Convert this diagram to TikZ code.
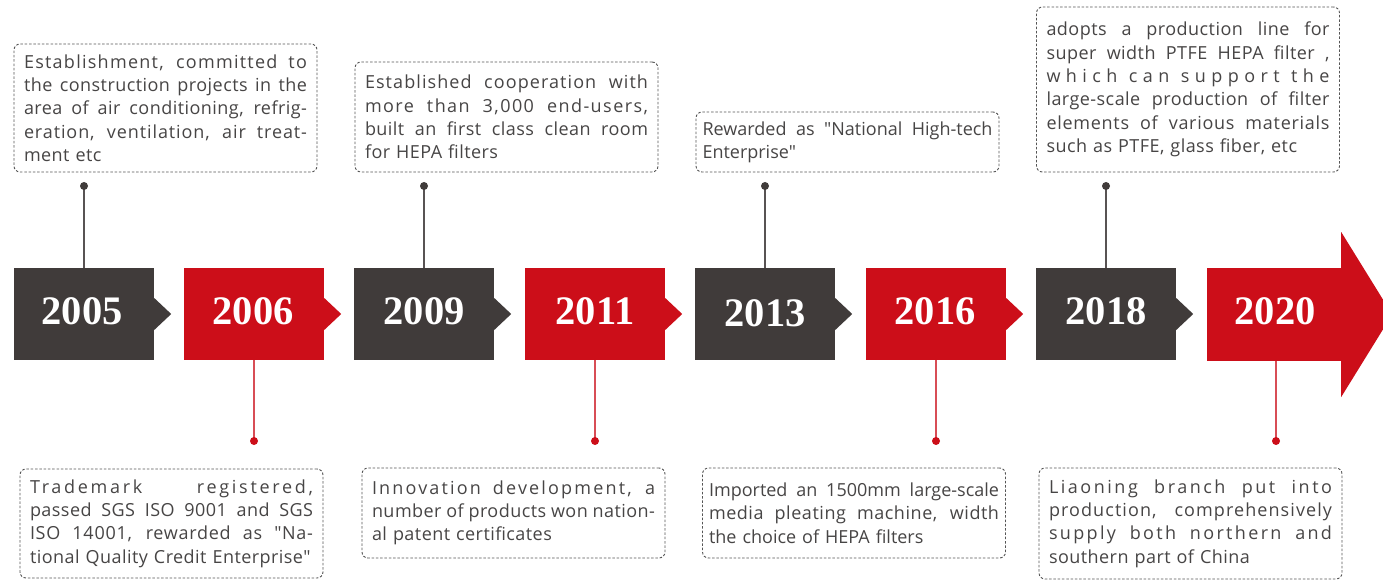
\documentclass[tikz,border=0pt]{standalone}
\usepackage{fontspec}
\setmainfont{Open Sans}[Ligatures=TeXOff, LetterSpace=2.5]
\newfontfamily\yearfont{Liberation Serif}
\usetikzlibrary{calc}
\definecolor{darkc}{HTML}{403B3A}
\definecolor{redc}{HTML}{CC0E19}
\definecolor{textc}{HTML}{474545}
\definecolor{dashc}{HTML}{555555}
\definecolor{toplinec}{HTML}{585353}
\definecolor{botlinec}{HTML}{D84D56}
\newlength\tw
\setlength\tw{283pt}
\newcommand\jl[1]{\makebox[\tw][s]{\spaceskip=0pt\xspaceskip=0pt #1}}
\newcommand\ls[2]{{\addfontfeature{LetterSpace=#1}#2}}
\begin{document}
\begin{tikzpicture}[x=1pt,y=-1pt,
  yearbox/.style={rectangle, minimum width=140pt, minimum height=92pt, inner sep=0pt,
    text=white, font=\yearfont\bfseries\fontsize{40.5}{40.5}\selectfont},
  darkyear/.style={yearbox, fill=darkc},
  redyear/.style={yearbox, fill=redc},
  note/.style={draw=dashc, dash pattern=on 2.5pt off 1.8pt, line width=0.9pt,
    rounded corners=6pt, text width=283pt, inner xsep=10pt, inner ysep=0pt,
    minimum width=303pt, align=left, text=textc,
    font=\fontsize{18}{23.3}\selectfont},
  widenote/.style={note, text width=290pt, inner xsep=6.5pt},
  topline/.style={draw=toplinec, line width=1.3pt},
  botline/.style={draw=botlinec, line width=1.3pt},
  topdot/.style={fill=darkc},
  botdot/.style={fill=redc}
]
\useasboundingbox[fill=white] (0,0) rectangle (1383,580);

% year boxes
\node[darkyear] (n2005) at (84,314) {};
\node[redyear]  (n2006) at (254,314) {};
\node[darkyear] (n2009) at (424,314) {};
\node[redyear]  (n2011) at (595,314) {};
\node[darkyear] (n2013) at (765,314) {};
\node[redyear]  (n2016) at (936,314) {};
\node[darkyear] (n2018) at (1106,314) {};
\node[redyear, minimum width=134pt, minimum height=93pt] (n2020) at (1274,314.5) {};

% small pointers
\foreach \n/\c in {n2005/darkc,n2006/redc,n2009/darkc,n2011/redc,n2013/darkc,n2016/redc,n2018/darkc}{
  \fill[\c] ($(\n.east)+(0,-16)$) -- ($(\n.east)+(17,0)$) -- ($(\n.east)+(0,16)$) -- cycle;
}
% big arrow head
\fill[redc] ($(n2020.east)+(0,-82.5)$) -- ($(n2020.east)+(51,0)$) -- ($(n2020.east)+(0,82.5)$) -- cycle;

% year labels
\node[yearbox] (l2005) at (82,311) {2005};
\node[yearbox] (l2006) at (253,311) {2006};
\node[yearbox] (l2009) at (424,311) {2009};
\node[yearbox] (l2011) at (595,311) {2011};
\node[yearbox] (l2013) at (765,313) {2013};
\node[yearbox] (l2016) at (935,311) {2016};
\node[yearbox] (l2018) at (1106,311) {2018};
\node[yearbox] (l2020) at (1275,311) {2020};

% connectors
\foreach \y/\x in {2005/84,2009/424,2013/765,2018/1106}{
  \coordinate (d\y) at (\x,186);
  \draw[topline] (d\y) -- (n\y.north);
  \fill[topdot] (d\y) circle (4pt);
}
\foreach \y/\x in {2006/254,2011/595,2016/936,2020/1276}{
  \coordinate (d\y) at (\x,441);
  \draw[botline] (n\y.south -| d\y) -- (d\y);
  \fill[botdot] (d\y) circle (4pt);
}

% notes top
\node[note, minimum height=128pt] (t1) at (165.5,108) {%
\jl{\ls{7}{Establishment, committed to}}\\
\jl{the construction projects in the}\\
\jl{area of air conditioning, refrig-}\\
\jl{\ls{5}{eration, ventilation, air treat-}}\\
ment etc};
\node[note, minimum height=110pt] (t2) at (506.5,117) {%
\jl{\ls{6}{Established cooperation with}}\\
\jl{\ls{8}{more than 3,000 end-users,}}\\
\jl{built an first class clean room}\\
for HEPA filters};
\node[widenote, minimum height=60pt] (t3) at (847.5,142) {%
\setlength\tw{290pt}%
\jl{\ls{0}{Rewarded as "National High-tech}}\\
\ls{0}{Enterprise"}};
\node[note, minimum height=165pt] (t4) at (1188,89.5) {%
\jl{adopts a production line for}\\
\jl{super width PTFE HEPA filter ,}\\
\jl{\ls{30}{which can support the}}\\
\jl{large-scale production of filter}\\
\jl{\ls{4}{elements of various materials}}\\
such as PTFE, glass fiber, etc};

% notes bottom
\node[note, minimum height=109pt] (b1) at (171.5,523.5) {%
\jl{\ls{15}{Trademark registered,}}\\
\jl{passed SGS ISO 9001 and SGS}\\
\jl{\ls{4}{ISO 14001, rewarded as "Na-}}\\
tional Quality Credit Enterprise"};
\node[note, minimum height=90pt] (b2) at (513.5,513) {%
\jl{\ls{12}{Innovation development, a}}\\
\jl{number of products won nation-}\\
al patent certificates};
\node[widenote, minimum height=90pt] (b3) at (854,513) {%
\setlength\tw{290pt}%
\jl{\ls{0}{Imported an 1500mm large-scale}}\\
\jl{\ls{3}{media pleating machine, width}}\\
\ls{0}{the choice of HEPA filters}};
\node[note, minimum height=111pt] (b4) at (1190.5,523.5) {%
\jl{\ls{14}{Liaoning branch put into}}\\
\jl{\ls{6}{production, comprehensively}}\\
\jl{\ls{13}{supply both northern and}}\\
southern part of China};
\end{tikzpicture}
\end{document}
